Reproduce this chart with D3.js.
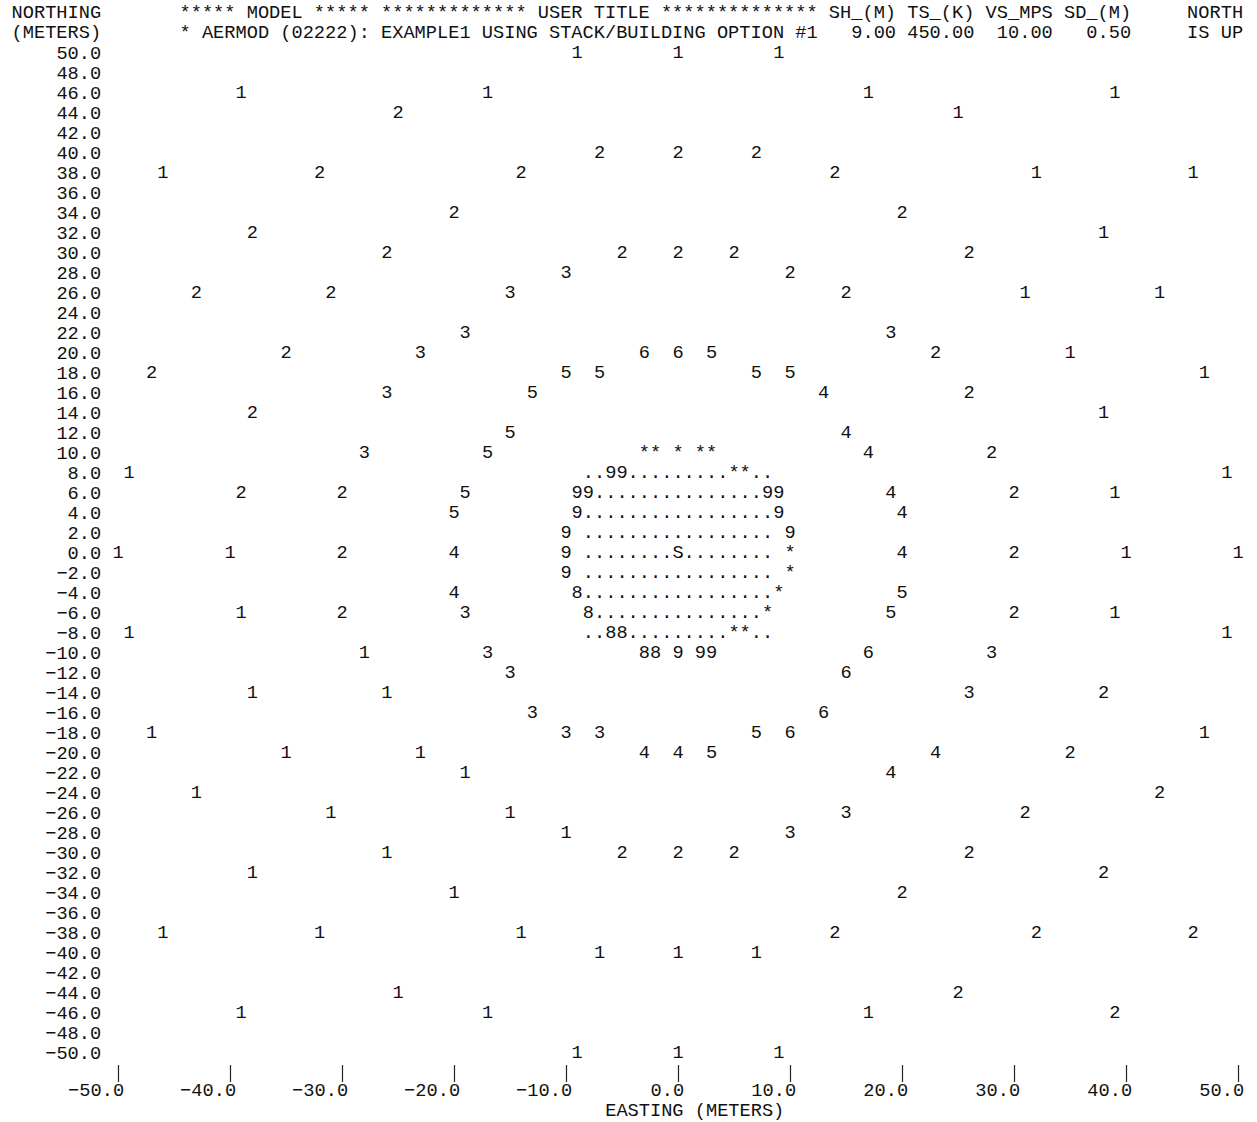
<!DOCTYPE html>
<html>
<head>
<meta charset="utf-8">
<script src="https://cdn.jsdelivr.net/npm/d3@7"></script>
<style>
    body { margin: 0; background: #fff; }
    text { font-family: "Courier New", Courier, "Nimbus Mono PS", "Nimbus Mono L", FreeMono, "Liberation Mono", monospace; white-space: pre; }
</style>
</head>
<body>
<div id="plot"></div>
<script>

// header lines of the printer plot
const headerLine1 = 'NORTHING       ***** MODEL ***** ************* USER TITLE ************** SH_(M) TS_(K) VS_MPS SD_(M)     NORTH';
const headerLine2 = '(METERS)       * AERMOD (02222): EXAMPLE1 USING STACK/BUILDING OPTION #1   9.00 450.00  10.00   0.50     IS UP';
const eastingTitle = 'EASTING (METERS)';

const northingTicks = [50, 48, 46, 44, 42, 40, 38, 36, 34, 32, 30, 28, 26, 24, 22, 20, 18, 16, 14, 12, 10,
    8, 6, 4, 2, 0, -2, -4, -6, -8, -10, -12, -14, -16, -18, -20, -22, -24, -26, -28, -30,
    -32, -34, -36, -38, -40, -42, -44, -46, -48, -50];
const eastingTicks = [-50, -40, -30, -20, -10, 0, 10, 20, 30, 40, 50];

// plotted symbols: [northing, easting of first char, symbol run]
const symbols = [
    [50, -9, '1'], [50, 0, '1'], [50, 9, '1'],
    [46, -39, '1'], [46, -17, '1'], [46, 17, '1'], [46, 39, '1'],
    [44, -25, '2'], [44, 25, '1'],
    [40, -7, '2'], [40, 0, '2'], [40, 7, '2'],
    [38, -46, '1'], [38, -32, '2'], [38, -14, '2'], [38, 14, '2'], [38, 32, '1'], [38, 46, '1'],
    [34, -20, '2'], [34, 20, '2'],
    [32, -38, '2'], [32, 38, '1'],
    [30, -26, '2'], [30, -5, '2'], [30, 0, '2'], [30, 5, '2'], [30, 26, '2'],
    [28, -10, '3'], [28, 10, '2'],
    [26, -43, '2'], [26, -31, '2'], [26, -15, '3'], [26, 15, '2'], [26, 31, '1'], [26, 43, '1'],
    [22, -19, '3'], [22, 19, '3'],
    [20, -35, '2'], [20, -23, '3'], [20, -3, '6'], [20, 0, '6'], [20, 3, '5'], [20, 23, '2'], [20, 35, '1'],
    [18, -47, '2'], [18, -10, '5'], [18, -7, '5'], [18, 7, '5'], [18, 10, '5'], [18, 47, '1'],
    [16, -26, '3'], [16, -13, '5'], [16, 13, '4'], [16, 26, '2'],
    [14, -38, '2'], [14, 38, '1'],
    [12, -15, '5'], [12, 15, '4'],
    [10, -28, '3'], [10, -17, '5'], [10, -3, '** * **'], [10, 17, '4'], [10, 28, '2'],
    [8, -49, '1'], [8, -8, '..99.........**..'], [8, 49, '1'],
    [6, -39, '2'], [6, -30, '2'], [6, -19, '5'], [6, -9, '99...............99'], [6, 19, '4'], [6, 30, '2'], [6, 39, '1'],
    [4, -20, '5'], [4, -9, '9.................9'], [4, 20, '4'],
    [2, -10, '9 ................. 9'],
    [0, -50, '1'], [0, -40, '1'], [0, -30, '2'], [0, -20, '4'], [0, -10, '9 ........S........ *'],
    [0, 20, '4'], [0, 30, '2'], [0, 40, '1'], [0, 50, '1'],
    [-2, -10, '9 ................. *'],
    [-4, -20, '4'], [-4, -9, '8.................*'], [-4, 20, '5'],
    [-6, -39, '1'], [-6, -30, '2'], [-6, -19, '3'], [-6, -8, '8...............*'], [-6, 19, '5'], [-6, 30, '2'], [-6, 39, '1'],
    [-8, -49, '1'], [-8, -8, '..88.........**..'], [-8, 49, '1'],
    [-10, -28, '1'], [-10, -17, '3'], [-10, -3, '88 9 99'], [-10, 17, '6'], [-10, 28, '3'],
    [-12, -15, '3'], [-12, 15, '6'],
    [-14, -38, '1'], [-14, -26, '1'], [-14, 26, '3'], [-14, 38, '2'],
    [-16, -13, '3'], [-16, 13, '6'],
    [-18, -47, '1'], [-18, -10, '3'], [-18, -7, '3'], [-18, 7, '5'], [-18, 10, '6'], [-18, 47, '1'],
    [-20, -35, '1'], [-20, -23, '1'], [-20, -3, '4'], [-20, 0, '4'], [-20, 3, '5'], [-20, 23, '4'], [-20, 35, '2'],
    [-22, -19, '1'], [-22, 19, '4'],
    [-24, -43, '1'], [-24, 43, '2'],
    [-26, -31, '1'], [-26, -15, '1'], [-26, 15, '3'], [-26, 31, '2'],
    [-28, -10, '1'], [-28, 10, '3'],
    [-30, -26, '1'], [-30, -5, '2'], [-30, 0, '2'], [-30, 5, '2'], [-30, 26, '2'],
    [-32, -38, '1'], [-32, 38, '2'],
    [-34, -20, '1'], [-34, 20, '2'],
    [-38, -46, '1'], [-38, -32, '1'], [-38, -14, '1'], [-38, 14, '2'], [-38, 32, '2'], [-38, 46, '2'],
    [-40, -7, '1'], [-40, 0, '1'], [-40, 7, '1'],
    [-44, -25, '1'], [-44, 25, '2'],
    [-46, -39, '1'], [-46, -17, '1'], [-46, 17, '1'], [-46, 39, '2'],
    [-50, -9, '1'], [-50, 0, '1'], [-50, 9, '1']
];

const width = 1257;
const height = 1122;
const lineH = 20;          // one printer line
const fontSize = 18.667;   // gives an 11.2px character cell
const cell = fontSize * 0.6;

// one printer column per metre, one line per 2 m
const x = d3.scaleLinear()
    .domain([-50, 50])
    .range([678 - 50 * cell, 678 + 50 * cell]);
const y = d3.scaleLinear()
    .domain([50, -50])
    .range([52.5, 52.5 + 50 * lineH]);

const svg = d3.select('#plot').append('svg')
    .attr('width', width)
    .attr('height', height)
    .attr('viewBox', [0, 0, width, height])
    .style('font-size', fontSize + 'px');

svg.append('rect')
    .attr('width', width)
    .attr('height', height)
    .attr('fill', '#fff');

// header, starting at the column of easting -59
svg.selectAll('.header')
    .data([headerLine1, headerLine2])
    .join('text')
        .attr('class', 'header')
        .attr('xml:space', 'preserve')
        .attr('x', x(-59) - cell / 2)
        .attr('y', (d, i) => 12.5 + i * lineH)
        .attr('dy', '0.32em')
        .attr('fill', '#111')
        .text(d => d);

// northing labels, right aligned two columns left of the plot
const yAxis = g =>
    g
        .attr('transform', `translate(${x(-52) + cell / 2},0)`)
        .call(d3.axisLeft(y)
                .tickValues(northingTicks)
                .tickSize(0)
                .tickPadding(0)
                .tickFormat(d3.format('.1f')))
        .call(g => g.select('.domain').remove())
        .call(g => g.attr('font-size', null).attr('font-family', null))
        .call(g => g.selectAll('.tick text').attr('fill', '#111'));

// easting ticks ('|') and labels below the last line
const tickTop = y(-50) + 12.5;
const xAxis = g =>
    g
        .attr('transform', `translate(0,${tickTop})`)
        .call(d3.axisBottom(x)
                .tickValues(eastingTicks)
                .tickSize(17)
                .tickFormat(d3.format('.1f')))
        .call(g => g.select('.domain').remove())
        .call(g => g.attr('font-size', null).attr('font-family', null))
        .call(g => g.selectAll('.tick line')
                    .attr('stroke', '#222')
                    .attr('stroke-width', 1.2))
        .call(g => g.selectAll('.tick text')
                    .attr('fill', '#111')
                    .attr('text-anchor', 'end')
                    .attr('x', cell / 2)
                    .attr('y', y(-50) + 2 * lineH - 2.5 - tickTop)
                    .attr('dy', '0.32em'));

svg.append('g').call(yAxis);
svg.append('g').call(xAxis);

svg.append('text')
    .attr('x', x(-6) - cell / 2)
    .attr('y', y(-50) + 3 * lineH - 2.5)
    .attr('dy', '0.32em')
    .attr('fill', '#111')
    .text(eastingTitle);

// split every run into single characters, one per column
const chars = [];
symbols.forEach(([n, e, s]) => {
    s.split('').forEach((c, i) => {
        if (c !== ' ') chars.push({n: n, e: e + i, c: c});
    });
});

svg.append('g')
    .attr('class', 'symbols')
    .selectAll('text')
    .data(chars)
    .join('text')
        .attr('x', d => x(d.e))
        .attr('y', d => y(d.n))
        .attr('dy', '0.32em')
        .attr('text-anchor', 'middle')
        .attr('fill', '#111')
        .text(d => d.c);

</script>
</body>
</html>
